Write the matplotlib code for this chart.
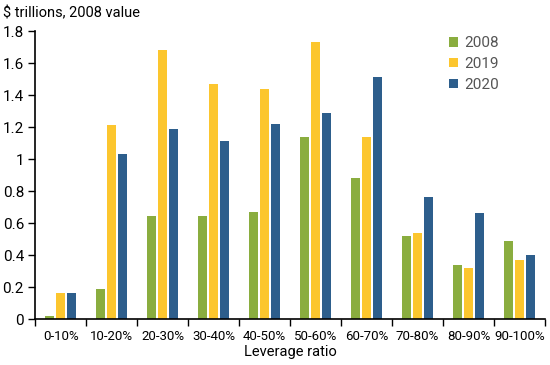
import numpy as np
import matplotlib
matplotlib.use("Agg")
import matplotlib.pyplot as plt

plt.rcParams['font.family'] = ['Roboto', 'DejaVu Sans']

# leverage buckets
categories = ["0-10%", "10-20%", "20-30%", "30-40%", "40-50%",
              "50-60%", "60-70%", "70-80%", "80-90%", "90-100%"]
vals_2008 = [0.02, 0.19, 0.645, 0.645, 0.67, 1.135, 0.88, 0.52, 0.34, 0.49]
vals_2019 = [0.165, 1.21, 1.68, 1.47, 1.435, 1.73, 1.14, 0.535, 0.32, 0.37]
vals_2020 = [0.16, 1.03, 1.19, 1.115, 1.22, 1.29, 1.51, 0.765, 0.66, 0.40]
series_names = ["2008", "2019", "2020"]
colors = ["#8aad3f", "#fcc62e", "#2d5e8c"]

fig = plt.figure(figsize=(5.5, 3.65), dpi=100)
ax = fig.add_axes([0.064, 0.126, 0.927, 0.789])

x = np.arange(len(categories))
w = 0.176
off = 0.216
for i, (vals, name) in enumerate(zip([vals_2008, vals_2019, vals_2020], series_names)):
    ax.bar(x + (i - 1) * off, vals, width=w, color=colors[i], label=name)

ax.set_xlim(-0.5, len(categories) - 0.5)
ax.set_ylim(0, 1.8)
ax.set_yticks(np.arange(0, 1.81, 0.2))
ax.set_yticklabels(["0", "0.2", "0.4", "0.6", "0.8", "1", "1.2", "1.4", "1.6", "1.8"], fontsize=11)

# category labels between boundary ticks
ax.set_xticks(np.arange(-0.5, len(categories), 1.0))
ax.set_xticklabels([])
ax.set_xticks(x, minor=True)
ax.set_xticklabels(categories, minor=True, fontsize=9.5)
ax.tick_params(axis='x', which='minor', length=0, pad=8)
ax.tick_params(axis='x', which='major', length=5, width=1, direction='out')
ax.tick_params(axis='y', length=5, width=1, direction='out', pad=3)

for s in ['top', 'right']:
    ax.spines[s].set_visible(False)
ax.spines['left'].set_linewidth(1.2)
ax.spines['bottom'].set_linewidth(1.2)

ax.set_xlabel("Leverage ratio", fontsize=10.5, labelpad=1)
fig.text(0.005, 0.965, "$ trillions, 2008 value", fontsize=10.5, ha='left', va='center')

leg = ax.legend(loc='upper left', bbox_to_anchor=(0.785, 1.03), frameon=False, fontsize=11,
                handlelength=0.6, handleheight=0.6, handletextpad=0.4, labelspacing=0.45)
for t in leg.get_texts():
    t.set_color("#555555")

fig.savefig("out.png", dpi=100)
